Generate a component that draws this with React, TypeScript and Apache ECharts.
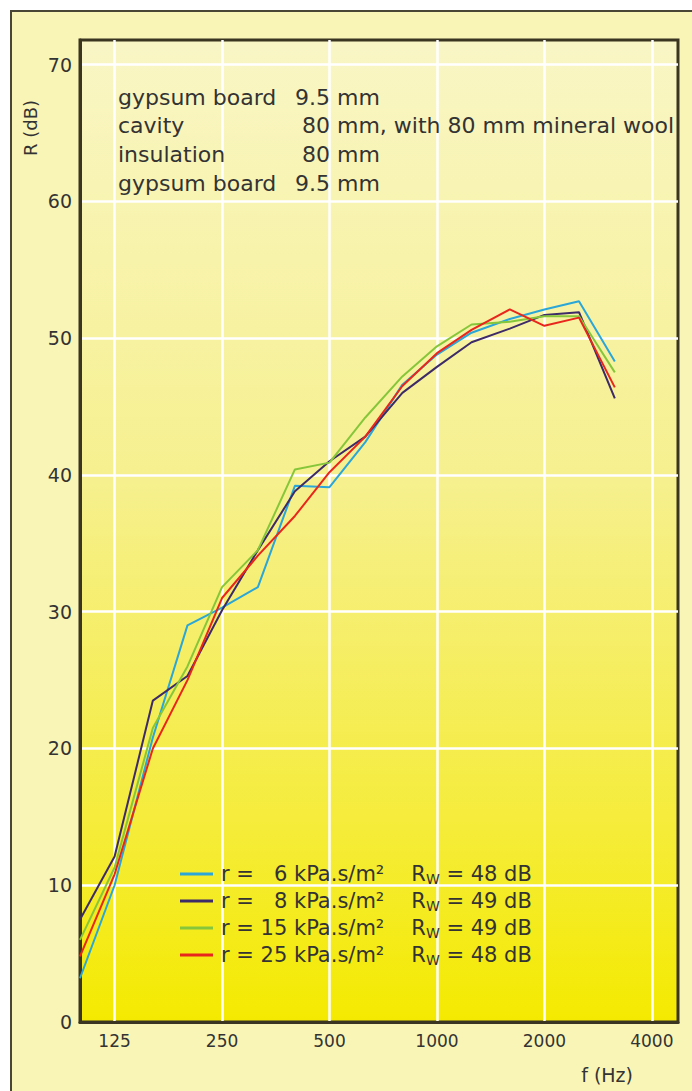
import React, { useEffect, useRef } from 'react';
import * as echarts from 'echarts';

// third-octave band centre frequencies (Hz)
const frequencies = [100, 125, 160, 200, 250, 315, 400, 500, 630, 800, 1000, 1250, 1600, 2000, 2500, 3150];
// sound reduction index R (dB) per airflow resistivity
const r6 = [3.2, 10.0, 20.8, 29.0, 30.3, 31.8, 39.2, 39.1, 42.4, 46.6, 48.8, 50.4, 51.4, 52.1, 52.7, 48.3];
const r8 = [7.5, 12.1, 23.5, 25.3, 30.1, 34.5, 38.8, 41.0, 42.8, 46.0, 47.9, 49.7, 50.7, 51.7, 51.9, 45.6];
const r15 = [6.0, 11.3, 21.5, 26.0, 31.8, 34.5, 40.4, 40.9, 44.2, 47.2, 49.4, 51.0, 51.2, 51.6, 51.6, 47.5];
const r25 = [4.8, 10.8, 20.0, 25.0, 31.0, 34.1, 37.0, 40.2, 42.8, 46.5, 48.9, 50.6, 52.1, 50.9, 51.5, 46.4];
const seriesValues = [r6, r8, r15, r25];
const resistivities = [6, 8, 15, 25];
const weightedIndices = [48, 49, 49, 48];
const seriesColors = ['#2aa6d8', '#3d2a68', '#86c63a', '#e8261c'];

const xTickLabels = [125, 250, 500, 1000, 2000, 4000];
const yTickLabels = [0, 10, 20, 30, 40, 50, 60, 70];

const layerNames = ['gypsum board', 'cavity', 'insulation', 'gypsum board'];
const layerThickness = ['9.5', '80', '80', '9.5'];
const layerUnits = ['mm', 'mm, with 80 mm mineral wool', 'mm', 'mm'];

const FONT = '"DejaVu Sans", "Liberation Sans", Arial, sans-serif';
const TEXT = '#333333';

const seriesName = (i: number) => `r = ${resistivities[i]} kPa.s/m²`;

export default function App() {
  const ref = useRef<HTMLDivElement>(null);

  useEffect(() => {
    document.body.style.margin = '0';
    if (!ref.current) return;
    const chart = echarts.init(ref.current, null, { renderer: 'svg' });

    const names = resistivities.map((_, i) => seriesName(i));

    const graphic: any[] = [];
    layerNames.forEach((n, i) => {
      const y = 97 + i * 28.7;
      graphic.push({ type: 'text', x: 118, y, z: 10, style: { text: n, fontFamily: FONT, fontSize: 22, fill: TEXT, verticalAlign: 'middle', align: 'left' } });
      graphic.push({ type: 'text', x: 330, y, z: 10, style: { text: layerThickness[i], fontFamily: FONT, fontSize: 22, fill: TEXT, verticalAlign: 'middle', align: 'right' } });
      graphic.push({ type: 'text', x: 337, y, z: 10, style: { text: layerUnits[i], fontFamily: FONT, fontSize: 22, fill: TEXT, verticalAlign: 'middle', align: 'left' } });
    });
    graphic.push({ type: 'text', x: 30, y: 128, rotation: Math.PI / 2, z: 10, style: { text: 'R (dB)', fontFamily: FONT, fontSize: 18, fill: TEXT, align: 'center', verticalAlign: 'middle' } });
    graphic.push({ type: 'text', x: 633, y: 1075, z: 10, style: { text: 'f (Hz)', fontFamily: FONT, fontSize: 19, fill: TEXT, align: 'right', verticalAlign: 'middle' } });

    const tok = { fontFamily: FONT, fontSize: 21, color: TEXT, lineHeight: 24 };

    const option: any = {
      animation: false,
      backgroundColor: 'transparent',
      grid: {
        left: 80, top: 40, right: 14, bottom: 69,
        show: true,
        borderColor: '#3a3520',
        borderWidth: 3,
        backgroundColor: new echarts.graphic.LinearGradient(0, 0, 0, 1, [
          { offset: 0, color: '#f9f6c6' },
          { offset: 0.45, color: '#f6f08e' },
          { offset: 0.8, color: '#f5ec3a' },
          { offset: 1, color: '#f4ea00' },
        ]),
      },
      xAxis: {
        type: 'value',
        min: Math.log2(100),
        max: Math.log2(4735),
        axisLine: { show: true, onZero: false, lineStyle: { color: '#3a3520', width: 3 } },
        axisTick: { show: false, customValues: xTickLabels.map((v) => Math.log2(v)) },
        axisLabel: {
          customValues: xTickLabels.map((v) => Math.log2(v)),
          formatter: (v: number) => String(Math.round(Math.pow(2, v))),
          fontFamily: FONT, fontSize: 17, color: TEXT, margin: 10,
        },
        splitLine: { show: true, lineStyle: { color: '#ffffff', width: 2.5 } },
      },
      yAxis: {
        type: 'value',
        min: 0,
        max: 71.8,
        axisLine: { show: true, lineStyle: { color: '#3a3520', width: 3 } },
        axisTick: { show: false, customValues: yTickLabels.filter((v) => v > 0) },
        axisLabel: {
          customValues: yTickLabels,
          fontFamily: FONT, fontSize: 19, color: TEXT, margin: 8,
        },
        splitLine: { show: true, lineStyle: { color: '#ffffff', width: 2.5 } },
      },
      legend: {
        orient: 'vertical',
        left: 180,
        top: 862,
        padding: 0,
        itemGap: 3,
        itemWidth: 33,
        itemHeight: 3,
        icon: 'rect',
        data: names,
        textStyle: {
          ...tok,
          rich: {
            a: { ...tok, padding: [0, 0, 0, 3] },
            b: { ...tok },
            c: { ...tok, width: 124 },
            d: { ...tok },
            e: { fontFamily: FONT, fontSize: 14, color: TEXT, lineHeight: 14, verticalAlign: 'bottom' },
            f: { ...tok },
          },
        },
        formatter: (name: string) => {
          const i = names.indexOf(name);
          const num = String(resistivities[i]).padStart(2, '\u2007');
          return `{a|r =}{b| ${num}}{c| kPa.s/m²}{d|R}{e|W}{f| = ${weightedIndices[i]} dB}`;
        },
      },
      graphic,
      series: seriesValues.map((vals, i) => ({
        name: names[i],
        type: 'line',
        showSymbol: false,
        symbol: 'none',
        color: seriesColors[i],
        lineStyle: { color: seriesColors[i], width: 2 },
        data: frequencies.map((f, j) => [Math.log2(f), vals[j]]),
      })),
    };

    chart.setOption(option);
    return () => chart.dispose();
  }, []);

  return (
    <div style={{ position: 'relative', width: 692, height: 1091, overflow: 'hidden', background: '#ffffff' }}>
      <div
        style={{
          position: 'absolute', left: 10, top: 10, width: 720, height: 1120,
          background: '#f9f5b6', border: '2px solid #4a4636', boxSizing: 'border-box',
        }}
      />
      <div ref={ref} style={{ position: 'absolute', left: 0, top: 0, width: 692, height: 1091 }} />
    </div>
  );
}
